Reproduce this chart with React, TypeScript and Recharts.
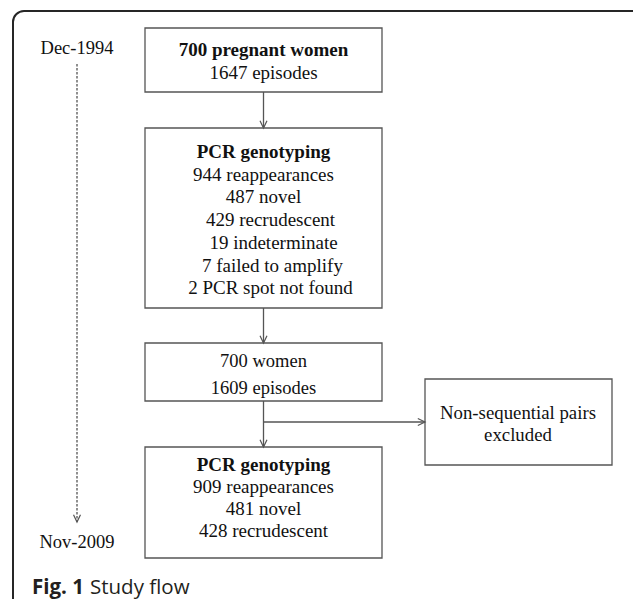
import React from 'react';
import {
  ScatterChart,
  Scatter,
  XAxis,
  YAxis,
  ReferenceArea,
  ReferenceLine,
} from 'recharts';

// box texts
const enrolled = ['700 pregnant women', '1647 episodes'];
const firstGenotyping = [
  'PCR genotyping',
  '944 reappearances',
  '487 novel',
  '429 recrudescent',
  '19 indeterminate',
  '7 failed to amplify',
  '2 PCR spot not found',
];
const analysed = ['700 women', '1609 episodes'];
const excluded = ['Non-sequential pairs', 'excluded'];
const finalGenotyping = ['PCR genotyping', '909 reappearances', '481 novel', '428 recrudescent'];
const timeline = ['Dec-1994', 'Nov-2009'];
const caption = ['Fig. 1', 'Study flow'];

const W = 633;
const H = 599;
const SERIF = "'Times New Roman', 'Liberation Serif', serif";
const SANS = "'Open Sans', sans-serif";
const MID = 263.5;

// layout, in page pixels (the axes map 1:1)
const boxes = [
  { x1: 145, x2: 382, y1: 28, y2: 92 },
  { x1: 145, x2: 382, y1: 128, y2: 308 },
  { x1: 145, x2: 382, y1: 343, y2: 401 },
  { x1: 425, x2: 612, y1: 379, y2: 465 },
  { x1: 145, x2: 382, y1: 447, y2: 558 },
];

const arrows = [
  { from: [MID, 92], to: [MID, 128] },
  { from: [MID, 308], to: [MID, 343] },
  { from: [MID, 401], to: [MID, 447] },
  { from: [MID, 422], to: [425, 422] },
];

const textBlocks = [
  { x: MID, y: 50, lines: enrolled, bold: 1, gap: 23, size: 19 },
  { x: MID, y: 152, lines: firstGenotyping, bold: 1, gap: 22.7, size: 19, dx: [0, 0, 0, 7, 10, 9, 7] },
  { x: MID, y: 361, lines: analysed, bold: 0, gap: 27, size: 18.5 },
  { x: 518, y: 413, lines: excluded, bold: 0, gap: 22, size: 18.8 },
  { x: MID, y: 465, lines: finalGenotyping, bold: 1, gap: 22, size: 19 },
  { x: 77, y: 48, lines: [timeline[0]], bold: 0, gap: 22, size: 18.5 },
  { x: 77, y: 542, lines: [timeline[1]], bold: 0, gap: 22, size: 18.5 },
];

const arrowHead = (x1: number, y1: number, x2: number, y2: number, color: string) => {
  const a = Math.atan2(y2 - y1, x2 - x1);
  const len = 8;
  const spread = 0.45;
  const p1 = [x2 - len * Math.cos(a - spread), y2 - len * Math.sin(a - spread)];
  const p2 = [x2 - len * Math.cos(a + spread), y2 - len * Math.sin(a + spread)];
  return (
    <path
      d={`M${p1[0]},${p1[1]} L${x2},${y2} L${p2[0]},${p2[1]}`}
      fill="none"
      stroke={color}
      strokeWidth={1.2}
    />
  );
};

const ArrowShape = (props: any) => {
  const { x1, y1, x2, y2, stroke, strokeDasharray } = props;
  return (
    <g>
      <line x1={x1} y1={y1} x2={x2} y2={y2} stroke={stroke} strokeWidth={1.3} strokeDasharray={strokeDasharray} />
      {arrowHead(x1, y1, x2, y2, stroke)}
    </g>
  );
};

const TextBlock = (props: any) => {
  const { cx, cy, payload } = props;
  if (cx == null || cy == null) return null;
  const s = payload.size;
  return (
    <g fontFamily={SERIF} fontSize={s} fill="#111">
      {payload.lines.map((line: string, i: number) => (
        <text
          key={i}
          x={cx + (payload.dx ? payload.dx[i] : 0)}
          y={cy + i * payload.gap + s * 0.32}
          textAnchor="middle"
          fontFamily={SERIF}
          fontWeight={i < payload.bold ? 700 : 400}
        >
          {line}
        </text>
      ))}
    </g>
  );
};

const FrameShape = (props: any) => {
  const { x, y, width, height } = props;
  return <rect x={x} y={y} width={width} height={height} rx={11} ry={11} fill="none" stroke="#262626" strokeWidth={2} />;
};

export default function App() {
  return (
    <div style={{ position: 'absolute', left: 0, top: 0, width: W, height: H, background: '#fff' }}>
      <ScatterChart width={W} height={H} margin={{ top: 0, right: 0, bottom: 0, left: 0 }}>
        <XAxis type="number" dataKey="x" domain={[0, W]} allowDataOverflow hide />
        <YAxis type="number" dataKey="y" domain={[0, H]} allowDataOverflow reversed hide />
        <ReferenceArea x1={13} x2={W + 20} y1={11} y2={H + 30} ifOverflow="visible" shape={FrameShape} />
        {boxes.map((b, i) => (
          <ReferenceArea
            key={i}
            x1={b.x1}
            x2={b.x2}
            y1={b.y1}
            y2={b.y2}
            fill="#fff"
            fillOpacity={1}
            stroke="#555"
            strokeWidth={1.3}
            ifOverflow="visible"
          />
        ))}
        {arrows.map((a, i) => (
          <ReferenceLine
            key={i}
            segment={[{ x: a.from[0], y: a.from[1] }, { x: a.to[0], y: a.to[1] }]}
            stroke="#555"
            ifOverflow="visible"
            shape={ArrowShape}
          />
        ))}
        <ReferenceLine
          segment={[{ x: 77, y: 64 }, { x: 77, y: 522 }]}
          stroke="#555"
          strokeDasharray="2.5 1.5"
          ifOverflow="visible"
          shape={ArrowShape}
        />
        <Scatter data={textBlocks} shape={TextBlock} isAnimationActive={false} />
        <text x={32} y={594} fontFamily={SANS} fontSize={20.5} fill="#231f20">
          <tspan fontWeight="bold">{caption[0]}</tspan>
          <tspan dx={6}>{caption[1]}</tspan>
        </text>
      </ScatterChart>
    </div>
  );
}
